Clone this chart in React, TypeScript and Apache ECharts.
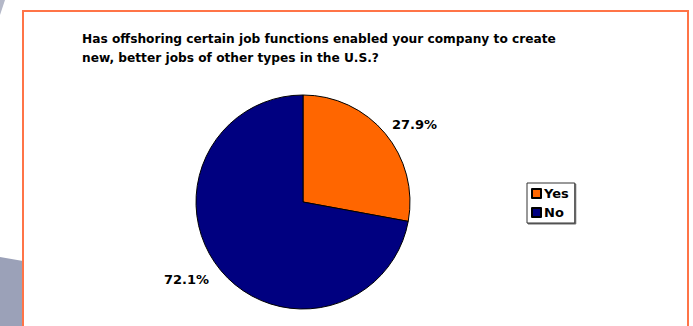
import React, { useEffect, useRef } from "react";
import * as echarts from "echarts";

const titleLines = [
  "Has offshoring certain job functions enabled your company to create",
  "new, better jobs of other types in the U.S.?",
];
const categories = ["Yes", "No"];
const values = [27.9, 72.1];
const colors = ["#FF6600", "#000080"];
const labelShiftX = [-9, 4];

const FONT = "DejaVu Sans";

export default function App() {
  const ref = useRef<HTMLDivElement>(null);

  useEffect(() => {
    document.body.style.margin = "0";
    if (!ref.current) return;
    const chart = echarts.init(ref.current, undefined, { renderer: "svg" });
    chart.setOption({
      animation: false,
      backgroundColor: "#ffffff",
      title: {
        text: titleLines.join("\n"),
        left: 77,
        top: 24,
        textStyle: {
          fontFamily: FONT,
          fontWeight: "bold",
          fontSize: 12.2,
          lineHeight: 19,
          color: "#000",
        },
      },
      legend: {
        orient: "vertical",
        left: 527,
        top: 183,
        padding: [4, 6, 4, 4],
        itemGap: 6,
        itemWidth: 9,
        itemHeight: 9,
        icon: "rect",
        borderColor: "#333",
        borderWidth: 1,
        shadowColor: "rgba(0,0,0,0.6)",
        shadowOffsetX: 1,
        shadowOffsetY: 1,
        shadowBlur: 0,
        backgroundColor: "#fff",
        textStyle: {
          fontFamily: FONT,
          fontWeight: "bold",
          fontSize: 13,
          color: "#000",
          padding: [0, 0, 0, -2],
        },
        data: categories,
      },
      graphic: [
        {
          type: "polygon",
          shape: { points: [[0, 257], [23, 261], [23, 326], [0, 326]] },
          style: { fill: "#9BA1B8" },
          z: 0,
        },
        {
          type: "polygon",
          shape: { points: [[0, 0], [5, 0], [0, 15]] },
          style: { fill: "#B4B8C8" },
          z: 0,
        },
        {
          type: "rect",
          shape: { x: 23, y: 11, width: 665, height: 330 },
          style: { fill: "none", stroke: "#FF7447", lineWidth: 2 },
          z: 1,
        },
      ],
      series: [
        {
          type: "pie",
          center: [303, 202],
          radius: 107,
          startAngle: 90,
          clockwise: true,
          avoidLabelOverlap: false,
          itemStyle: { borderColor: "#000", borderWidth: 1 },
          label: {
            show: true,
            position: "outside",
            formatter: (p: any) => p.value.toFixed(1) + "%",
            fontFamily: FONT,
            fontWeight: "bold",
            fontSize: 13,
            color: "#000",
          },
          labelLine: { show: false, length: 14, length2: 0 },
          labelLayout: (params: any) => ({ dx: labelShiftX[params.dataIndex] }),
          emphasis: { disabled: true },
          data: categories.map((name, i) => ({
            name,
            value: values[i],
            itemStyle: { color: colors[i] },
          })),
        },
      ],
    });
    return () => chart.dispose();
  }, []);

  return <div ref={ref} style={{ width: 693, height: 326 }} />;
}
